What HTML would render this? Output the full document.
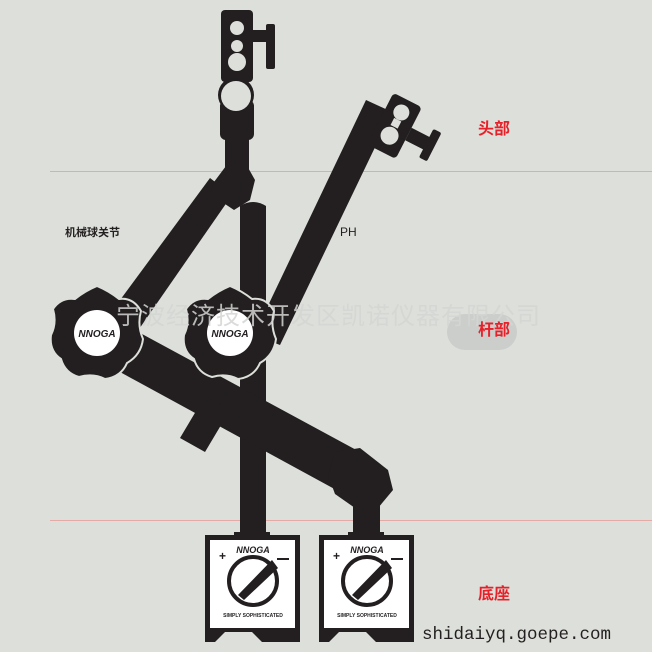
<!DOCTYPE html>
<html><head><meta charset="utf-8"><style>
html,body{margin:0;padding:0;background:#dcdfda;}
svg{display:block}
</style></head><body>
<svg width="652" height="652" viewBox="0 0 652 652" xmlns="http://www.w3.org/2000/svg">
<rect width="652" height="652" fill="#dcdfda"/>
<line x1="50" y1="171.5" x2="652" y2="171.5" stroke="#e3aaa6" stroke-width="1"/>
<line x1="50" y1="520.5" x2="652" y2="520.5" stroke="#e3aaa6" stroke-width="1"/>
<g fill="#231f20">
<path d="M240 206 Q253 198 266 206 L266 540 L240 540 Z"/>
<polygon points="254,335 280,345 392,112 366,100"/>
<g transform="translate(395,125) rotate(27)">
<rect x="-16" y="-28" width="32" height="58" rx="4"/>
<rect x="16" y="-5" width="24" height="14"/>
<rect x="36" y="-14" width="9" height="32" rx="2"/>
<circle cx="0" cy="-14" r="8" fill="#dcdfda"/>
<circle cx="0" cy="12" r="9" fill="#dcdfda"/>
<rect x="-4" y="-6" width="8" height="8" fill="#dcdfda"/>
</g>
<polygon points="98,330 128,345 232,195 210,178"/>
<path d="M214 182 L226 166 L246 164 L255 180 L250 200 L234 210 L210 194 Z"/>
<rect x="225" y="110" width="24" height="62"/>
<rect x="220" y="100" width="34" height="40" rx="6"/>
<circle cx="236" cy="95" r="18"/>
<rect x="221" y="10" width="32" height="72" rx="4"/>
<rect x="253" y="30" width="14" height="12"/>
<rect x="266" y="24" width="9" height="45" rx="2"/>
<circle cx="237" cy="28" r="7" fill="#dcdfda"/>
<circle cx="237" cy="62" r="9" fill="#dcdfda"/>
<circle cx="237" cy="46" r="6" fill="#dcdfda"/>
<circle cx="236" cy="96" r="15" fill="#dcdfda"/>
<polygon points="142,334 120,372 340,492 360,452"/>
<polygon points="205,396 230,410 205,452 180,438"/>
<path d="M335 452 L360 448 L388 470 L393 490 L378 508 L355 508 L335 494 L328 475 Z"/>
<rect x="353" y="500" width="27" height="36"/>
<g transform="translate(97,333)">
<path d="M0,-47 Q12,-42 22,-34 Q36,-36 44,-22 Q40,-8 46,6 Q44,22 30,30 Q24,44 8,46 Q-4,40 -18,44 Q-32,40 -36,26 Q-48,18 -46,2 Q-40,-10 -44,-24 Q-36,-36 -22,-34 Q-12,-42 0,-47 Z" stroke="#dcdfda" stroke-width="2"/>
<circle r="23" fill="#fff"/>
<text x="0" y="4" font-family="Liberation Sans,sans-serif" font-size="10" font-weight="bold" font-style="italic" text-anchor="middle" fill="#231f20">NNOGA</text>
</g>
<g transform="translate(230,333)">
<path d="M0,-47 Q12,-42 22,-34 Q36,-36 44,-22 Q40,-8 46,6 Q44,22 30,30 Q24,44 8,46 Q-4,40 -18,44 Q-32,40 -36,26 Q-48,18 -46,2 Q-40,-10 -44,-24 Q-36,-36 -22,-34 Q-12,-42 0,-47 Z" stroke="#dcdfda" stroke-width="2"/>
<circle r="23" fill="#fff"/>
<text x="0" y="4" font-family="Liberation Sans,sans-serif" font-size="10" font-weight="bold" font-style="italic" text-anchor="middle" fill="#231f20">NNOGA</text>
</g>
<g>
<rect x="234" y="532" width="36" height="8"/>
<path d="M205 535 L300 535 L300 642 L262 642 L252 632 L225 632 L215 642 L205 642 Z"/>
<rect x="210" y="540" width="85" height="88" fill="#fff"/>
<text x="253" y="553" font-family="Liberation Sans,sans-serif" font-size="9" font-weight="bold" font-style="italic" text-anchor="middle">NNOGA</text>
<text x="219" y="560" font-family="Liberation Sans,sans-serif" font-size="12" font-weight="bold">+</text>
<circle cx="253" cy="581" r="24" fill="none" stroke="#231f20" stroke-width="4"/>
<polygon points="238,595 244,600 278,568 272,560"/>
<rect x="277" y="558" width="12" height="2"/>
<text x="253" y="617" font-family="Liberation Sans,sans-serif" font-size="5" font-weight="bold" text-anchor="middle">SIMPLY SOPHISTICATED</text>
</g>
<g transform="translate(114,0)">
<rect x="234" y="532" width="36" height="8"/>
<path d="M205 535 L300 535 L300 642 L262 642 L252 632 L225 632 L215 642 L205 642 Z"/>
<rect x="210" y="540" width="85" height="88" fill="#fff"/>
<text x="253" y="553" font-family="Liberation Sans,sans-serif" font-size="9" font-weight="bold" font-style="italic" text-anchor="middle">NNOGA</text>
<text x="219" y="560" font-family="Liberation Sans,sans-serif" font-size="12" font-weight="bold">+</text>
<circle cx="253" cy="581" r="24" fill="none" stroke="#231f20" stroke-width="4"/>
<polygon points="238,595 244,600 278,568 272,560"/>
<rect x="277" y="558" width="12" height="2"/>
<text x="253" y="617" font-family="Liberation Sans,sans-serif" font-size="5" font-weight="bold" text-anchor="middle">SIMPLY SOPHISTICATED</text>
</g>
</g>
<rect x="447" y="314" width="70" height="36" rx="18" fill="#cbcecb"/>
<text x="116" y="324" font-family="Liberation Sans,'Noto Sans CJK SC',sans-serif" font-size="24" letter-spacing="1" fill="#d3d6d2" fill-opacity="0.85">宁波经济技术开发区凯诺仪器有限公司</text>
<text x="65" y="236" font-family="Liberation Sans,'Noto Sans CJK SC',sans-serif" font-size="11" font-weight="bold" fill="#231f20">机械球关节</text>
<text x="340" y="236" font-family="Liberation Sans,sans-serif" font-size="12" fill="#231f20">PH</text>
<text x="478" y="134" font-family="Liberation Sans,'Noto Sans CJK SC',sans-serif" font-size="16" font-weight="bold" fill="#e8202a">头部</text>
<text x="478" y="335" font-family="Liberation Sans,'Noto Sans CJK SC',sans-serif" font-size="16" font-weight="bold" fill="#e8202a">杆部</text>
<text x="478" y="599" font-family="Liberation Sans,'Noto Sans CJK SC',sans-serif" font-size="16" font-weight="bold" fill="#e8202a">底座</text>
<text x="422" y="639" font-family="Liberation Mono,monospace" font-size="17.5" fill="#231f20">shidaiyq.goepe.com</text>
</svg>
</body></html>
